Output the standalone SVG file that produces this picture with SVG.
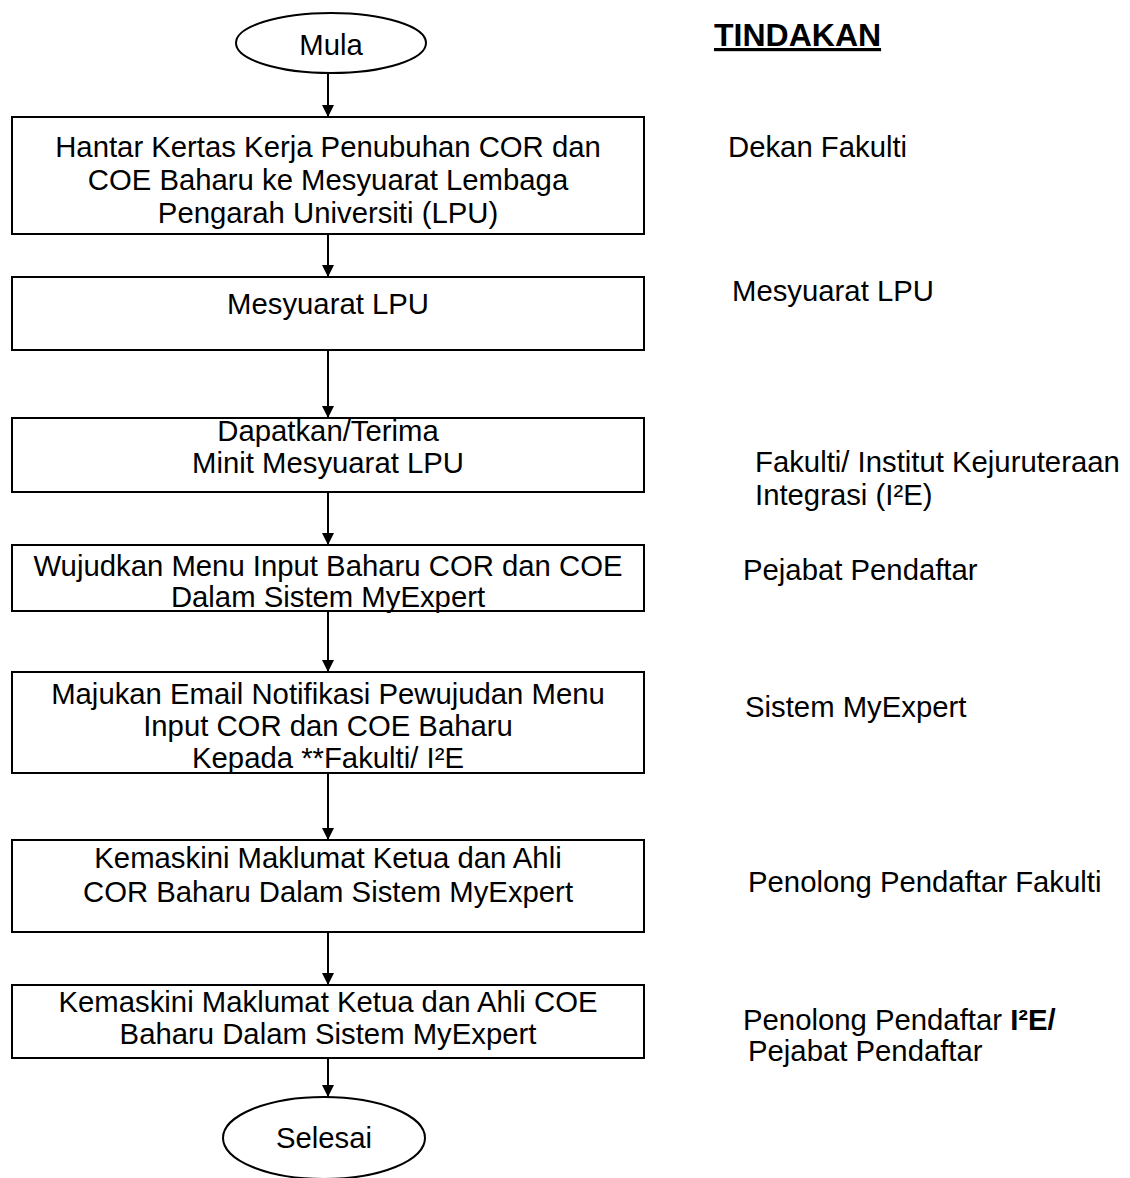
<svg xmlns="http://www.w3.org/2000/svg" width="1130" height="1178" viewBox="0 0 1130 1178">
<defs>
<style>
.box{fill:#fff;stroke:#000;stroke-width:2}
.t{font-family:"Liberation Sans",Arial,sans-serif;font-size:29.3px;fill:#000}
.c{text-anchor:middle}
.h{font-size:32px;font-weight:bold;text-decoration:underline}
.ln{stroke:#000;stroke-width:2;fill:none}
</style>
<marker id="ah" markerWidth="12" markerHeight="12" refX="12" refY="6" orient="auto" markerUnits="userSpaceOnUse">
<path d="M0,0 L12,6 L0,12 Z" fill="#000"/>
</marker>
</defs>
<rect width="1130" height="1178" fill="#fff"/>
<g id="connectors">
<line class="ln" x1="328" y1="73" x2="328" y2="117" marker-end="url(#ah)"/>
<line class="ln" x1="328" y1="234" x2="328" y2="277" marker-end="url(#ah)"/>
<line class="ln" x1="328" y1="350" x2="328" y2="418" marker-end="url(#ah)"/>
<line class="ln" x1="328" y1="492" x2="328" y2="545" marker-end="url(#ah)"/>
<line class="ln" x1="328" y1="611" x2="328" y2="672" marker-end="url(#ah)"/>
<line class="ln" x1="328" y1="773" x2="328" y2="840" marker-end="url(#ah)"/>
<line class="ln" x1="328" y1="932" x2="328" y2="985" marker-end="url(#ah)"/>
<line class="ln" x1="328" y1="1058" x2="328" y2="1097" marker-end="url(#ah)"/>
</g>
<g id="mula">
<ellipse class="box" cx="331" cy="43" rx="95" ry="30"/>
<text class="t c" x="331" y="55">Mula</text>
</g>
<g id="box1">
<rect class="box" x="12" y="117" width="632" height="117"/>
<text class="t c" x="328" y="157">Hantar Kertas Kerja Penubuhan COR dan</text>
<text class="t c" x="328" y="190">COE Baharu ke Mesyuarat Lembaga</text>
<text class="t c" x="328" y="223">Pengarah Universiti (LPU)</text>
</g>
<g id="box2">
<rect class="box" x="12" y="277" width="632" height="73"/>
<text class="t c" x="328" y="314">Mesyuarat LPU</text>
</g>
<g id="box3">
<rect class="box" x="12" y="418" width="632" height="74"/>
<text class="t c" x="328" y="441">Dapatkan/Terima</text>
<text class="t c" x="328" y="473">Minit Mesyuarat LPU</text>
</g>
<g id="box4">
<rect class="box" x="12" y="545" width="632" height="66"/>
<text class="t c" x="328" y="576">Wujudkan Menu Input Baharu COR dan COE</text>
<text class="t c" x="328" y="607">Dalam Sistem MyExpert</text>
</g>
<g id="box5">
<rect class="box" x="12" y="672" width="632" height="101"/>
<text class="t c" x="328" y="704">Majukan Email Notifikasi Pewujudan Menu</text>
<text class="t c" x="328" y="736">Input COR dan COE Baharu</text>
<text class="t c" x="328" y="768">Kepada **Fakulti/ I²E</text>
</g>
<g id="box6">
<rect class="box" x="12" y="840" width="632" height="92"/>
<text class="t c" x="328" y="868">Kemaskini Maklumat Ketua dan Ahli</text>
<text class="t c" x="328" y="902">COR Baharu Dalam Sistem MyExpert</text>
</g>
<g id="box7">
<rect class="box" x="12" y="985" width="632" height="73"/>
<text class="t c" x="328" y="1012">Kemaskini Maklumat Ketua dan Ahli COE</text>
<text class="t c" x="328" y="1044">Baharu Dalam Sistem MyExpert</text>
</g>
<g id="selesai">
<ellipse class="box" cx="324" cy="1138" rx="101" ry="41"/>
<text class="t c" x="324" y="1148">Selesai</text>
</g>
<g id="tindakan">
<text class="t h" x="714" y="46">TINDAKAN</text>
<text class="t" x="728" y="157">Dekan Fakulti</text>
<text class="t" x="732" y="301">Mesyuarat LPU</text>
<text class="t" x="755" y="472">Fakulti/ Institut Kejuruteraan</text>
<text class="t" x="755" y="505">Integrasi (I²E)</text>
<text class="t" x="743" y="580">Pejabat Pendaftar</text>
<text class="t" x="745" y="717">Sistem MyExpert</text>
<text class="t" x="748" y="892">Penolong Pendaftar Fakulti</text>
<text class="t" x="743" y="1030">Penolong Pendaftar <tspan font-weight="bold">I²E/</tspan></text>
<text class="t" x="748" y="1061">Pejabat Pendaftar</text>
</g>
</svg>
